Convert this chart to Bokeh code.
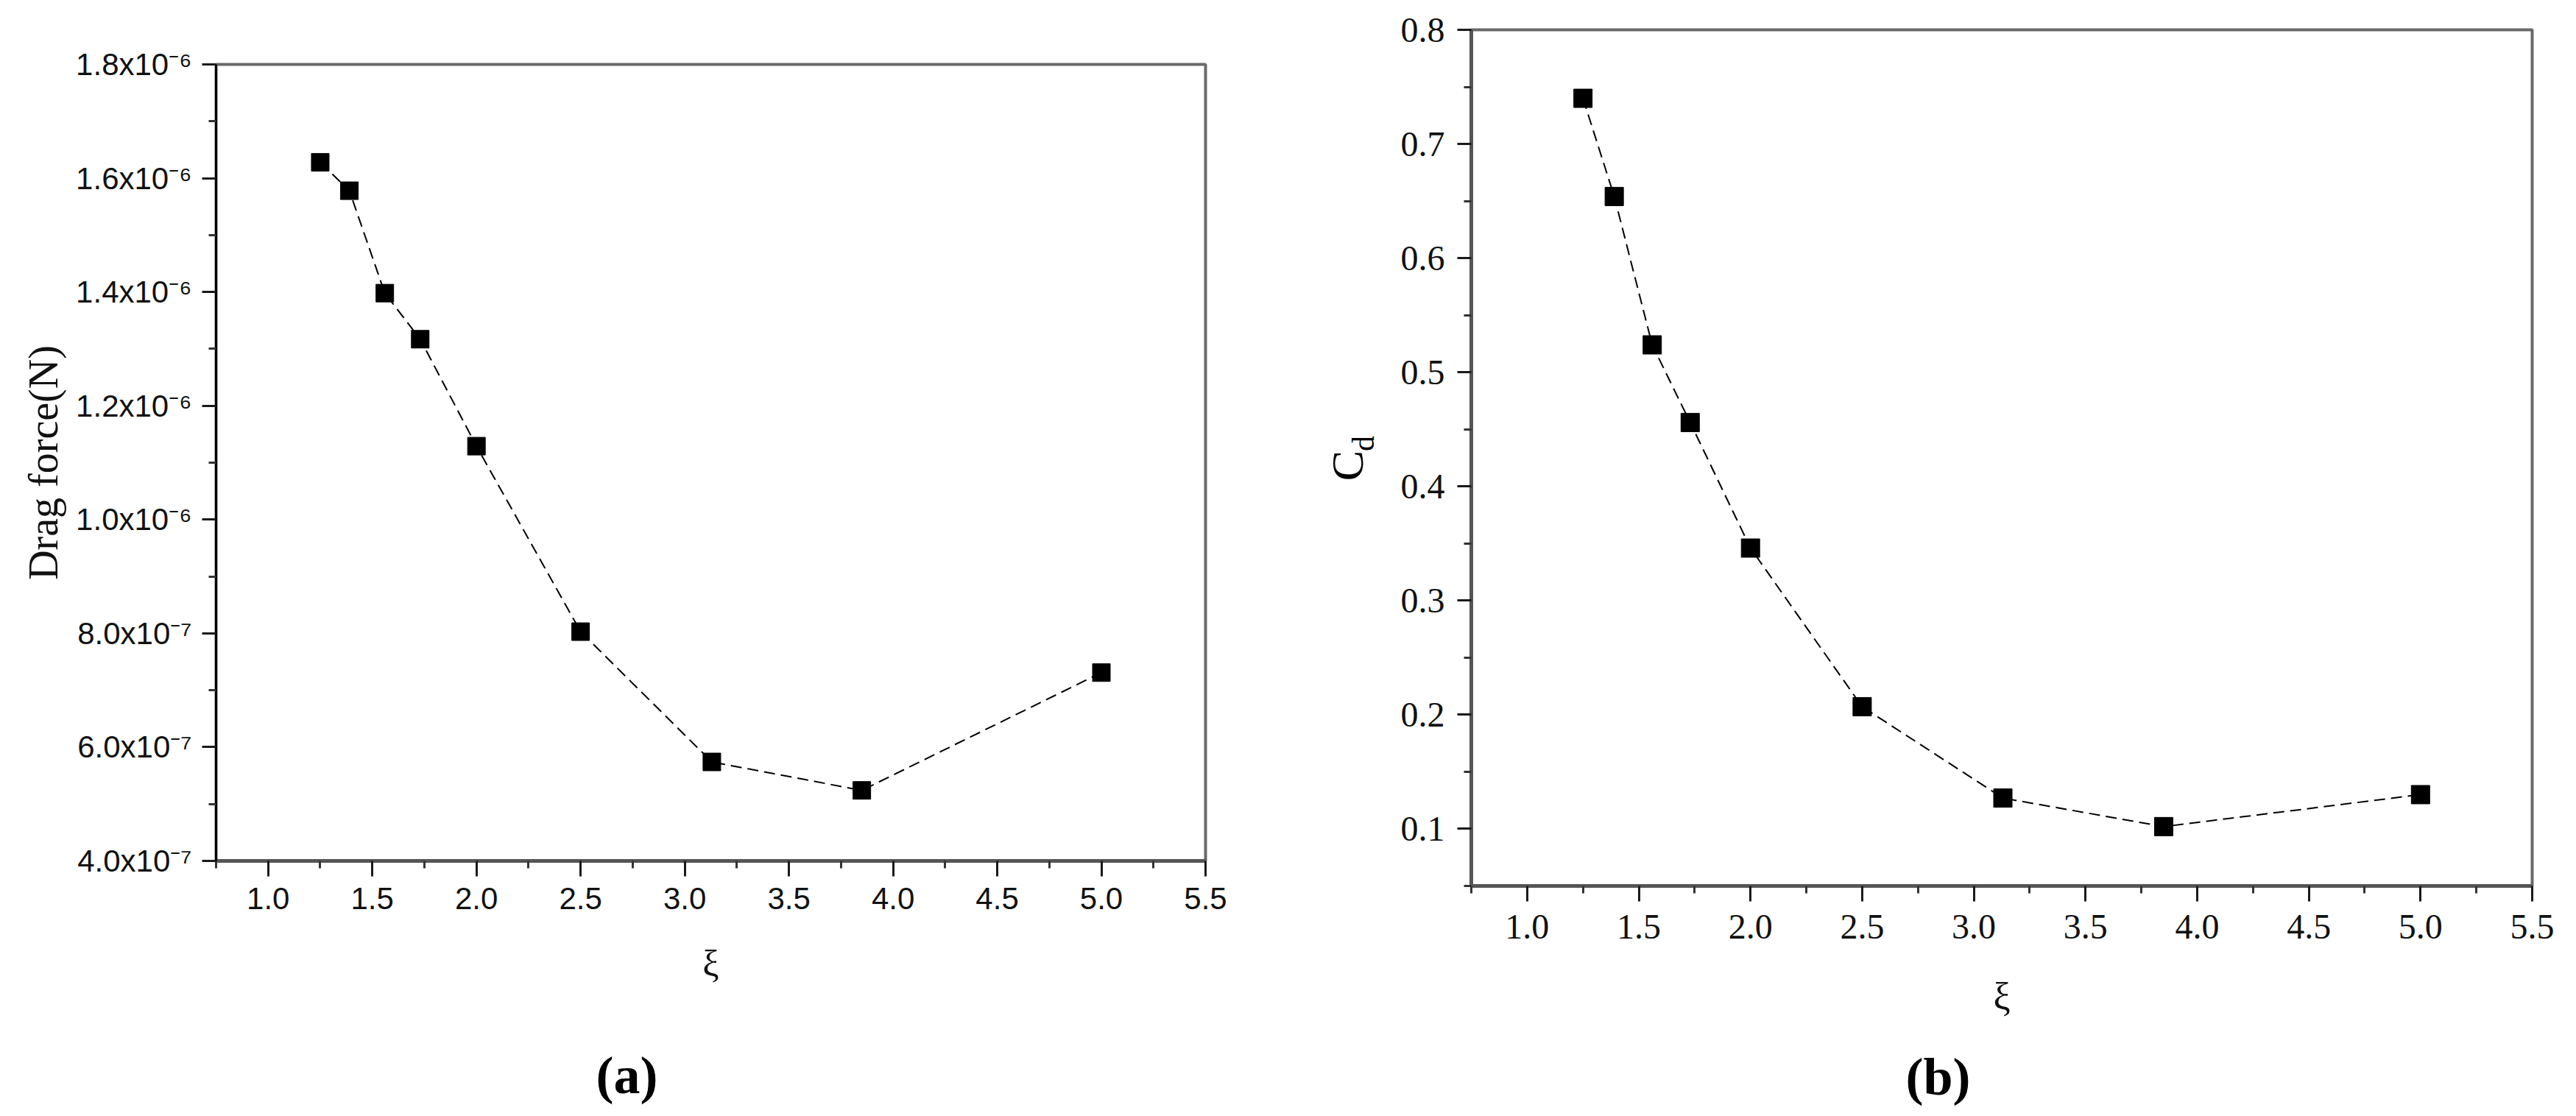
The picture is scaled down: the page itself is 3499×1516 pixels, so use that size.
import math
from bokeh.plotting import figure
from bokeh.models import FixedTicker, NumeralTickFormatter, CustomJSTickFormatter, Label, Range1d
from bokeh.embed import file_html
from bokeh.resources import INLINE

# ---- data ----
xi = [1.25, 1.39, 1.56, 1.73, 2.0, 2.5, 3.13, 3.85, 5.0]
drag_force = [1.628e-6, 1.578e-6, 1.398e-6, 1.317e-6, 1.129e-6, 8.03e-7, 5.74e-7, 5.24e-7, 7.31e-7]
cd = [0.740, 0.654, 0.524, 0.456, 0.346, 0.207, 0.127, 0.102, 0.130]

x_ticks = [1.0, 1.5, 2.0, 2.5, 3.0, 3.5, 4.0, 4.5, 5.0, 5.5]
x_minor = [0.75, 1.25, 1.75, 2.25, 2.75, 3.25, 3.75, 4.25, 4.75, 5.25]
fa_ticks = [4e-7, 6e-7, 8e-7, 1.0e-6, 1.2e-6, 1.4e-6, 1.6e-6, 1.8e-6]
fa_minor = [5e-7, 7e-7, 9e-7, 1.1e-6, 1.3e-6, 1.5e-6, 1.7e-6]
cd_ticks = [0.1, 0.2, 0.3, 0.4, 0.5, 0.6, 0.7, 0.8]
cd_minor = [0.05, 0.15, 0.25, 0.35, 0.45, 0.55, 0.65, 0.75]

INK = "#111111"
SANS = "Liberation Sans"
SERIF = "Liberation Serif"


def place(model, left, top):
    model.styles = {"position": "absolute", "left": f"{left}px", "top": f"{top}px"}


def style(p, left_color, left_w, bottom_color, bottom_w):
    p.grid.visible = False
    p.outline_line_color = "#6a6a6a"
    p.outline_line_width = 4
    p.background_fill_color = "white"
    p.border_fill_alpha = 0
    for ax in (p.xaxis[0], p.yaxis[0]):
        ax.major_tick_in = 0
        ax.minor_tick_in = 0
        ax.major_tick_line_width = 3
        ax.minor_tick_line_width = 3
        ax.major_tick_line_color = "#1a1a1a"
        ax.minor_tick_line_color = "#333333"
        ax.major_label_text_color = INK
        ax.axis_label_text_color = INK
        ax.axis_label_text_font_style = "normal"
    p.yaxis[0].axis_line_color = left_color
    p.yaxis[0].axis_line_width = left_w
    p.xaxis[0].axis_line_color = bottom_color
    p.xaxis[0].axis_line_width = bottom_w
    p.yaxis[0].major_tick_out = 19
    p.yaxis[0].minor_tick_out = 10
    p.xaxis[0].major_tick_out = 21
    p.xaxis[0].minor_tick_out = 10


def text_canvas(width, height):
    f = figure(width=width, height=height, output_backend="svg", toolbar_location=None,
               x_range=Range1d(0, width), y_range=Range1d(0, height),
               x_axis_type=None, y_axis_type=None,
               min_border=0, min_border_left=0, min_border_right=0,
               min_border_top=0, min_border_bottom=0)
    f.grid.visible = False
    f.outline_line_color = None
    f.background_fill_alpha = 0
    f.border_fill_alpha = 0
    return f


# ---------------- panel (a) ----------------
p1 = figure(width=1782, height=1440, output_backend="svg", toolbar_location=None,
            x_range=Range1d(0.75, 5.5), y_range=Range1d(4e-7, 1.8e-6),
            min_border_left=285, min_border_right=153, min_border_top=79, min_border_bottom=279)
style(p1, "black", 3, "#555555", 5)
p1.xaxis.ticker = FixedTicker(ticks=x_ticks, minor_ticks=x_minor)
p1.yaxis.ticker = FixedTicker(ticks=fa_ticks, minor_ticks=fa_minor)
p1.xaxis.formatter = NumeralTickFormatter(format="0.0")
p1.yaxis.formatter = CustomJSTickFormatter(code="""
    const sup = {'-':'\u207b','0':'\u2070','1':'\u00b9','2':'\u00b2','3':'\u00b3','4':'\u2074',
                 '5':'\u2075','6':'\u2076','7':'\u2077','8':'\u2078','9':'\u2079'};
    const e = Math.floor(Math.log10(Math.abs(tick)) + 1e-9);
    const m = tick / Math.pow(10, e);
    return m.toFixed(1) + 'x10' + String(e).split('').map(c => sup[c]).join('');
""")
p1.xaxis.major_label_text_font = SANS
p1.yaxis.major_label_text_font = SANS
p1.xaxis.major_label_text_font_size = "42px"
p1.yaxis.major_label_text_font_size = "42px"
p1.xaxis.major_label_standoff = 15
p1.yaxis.major_label_standoff = 14
p1.xaxis.axis_label = "ξ"
p1.xaxis.axis_label_text_font = SERIF
p1.xaxis.axis_label_text_font_size = "50px"
p1.xaxis.axis_label_standoff = 43
p1.yaxis.axis_label = "Drag force(N)"
p1.yaxis.axis_label_text_font = SERIF
p1.yaxis.axis_label_text_font_size = "56px"
p1.yaxis.axis_label_standoff = 10

p1.line(xi, drag_force, line_color="black", line_width=2, line_dash="15 8")
p1.scatter(xi, drag_force, marker="square", size=24, fill_color="black", line_color="black")
place(p1, 8, 8)

# ---------------- panel (b) ----------------
p2 = figure(width=1611, height=1440, output_backend="svg", toolbar_location=None,
            x_range=Range1d(0.75, 5.5), y_range=Range1d(0.05, 0.8),
            min_border_left=118, min_border_right=52, min_border_top=32, min_border_bottom=245)
style(p2, "#555555", 5, "#555555", 5)
p2.xaxis.ticker = FixedTicker(ticks=x_ticks, minor_ticks=x_minor)
p2.yaxis.ticker = FixedTicker(ticks=cd_ticks, minor_ticks=cd_minor)
p2.xaxis.formatter = NumeralTickFormatter(format="0.0")
p2.yaxis.formatter = NumeralTickFormatter(format="0.0")
p2.xaxis.major_label_text_font = SERIF
p2.yaxis.major_label_text_font = SERIF
p2.xaxis.major_label_text_font_size = "48px"
p2.yaxis.major_label_text_font_size = "48px"
p2.xaxis.major_label_standoff = 18
p2.yaxis.major_label_standoff = 17
p2.xaxis.axis_label = "ξ"
p2.xaxis.axis_label_text_font = SERIF
p2.xaxis.axis_label_text_font_size = "52px"
p2.xaxis.axis_label_standoff = 47

p2.line(xi, cd, line_color="black", line_width=2, line_dash="15 8")
p2.scatter(xi, cd, marker="square", size=25, fill_color="black", line_color="black")
place(p2, 1880, 8)

# ---------------- y label of panel (b): C with subscript d ----------------
cdfig = text_canvas(90, 160)
cdfig.add_layout(Label(x=39, y=68, text="C", text_font=SERIF, text_font_size="62px",
                       text_color="black", angle=math.pi / 2,
                       text_align="center", text_baseline="middle"))
cdfig.add_layout(Label(x=61, y=98, text="d", text_font=SERIF, text_font_size="42px",
                       text_color="black", angle=math.pi / 2,
                       text_align="center", text_baseline="middle"))
place(cdfig, 1790, 540)

# ---------------- panel captions ----------------
capfig = text_canvas(3483, 98)
capfig.add_layout(Label(x=843, y=48, text="(a)", text_font=SERIF, text_font_size="72px",
                        text_font_style="bold", text_color="black",
                        text_align="center", text_baseline="middle"))
capfig.add_layout(Label(x=2624, y=46, text="(b)", text_font=SERIF, text_font_size="72px",
                        text_font_style="bold", text_color="black",
                        text_align="center", text_baseline="middle"))
place(capfig, 8, 1410)

open("out.html", "w").write(file_html([p1, p2, cdfig, capfig], INLINE))
